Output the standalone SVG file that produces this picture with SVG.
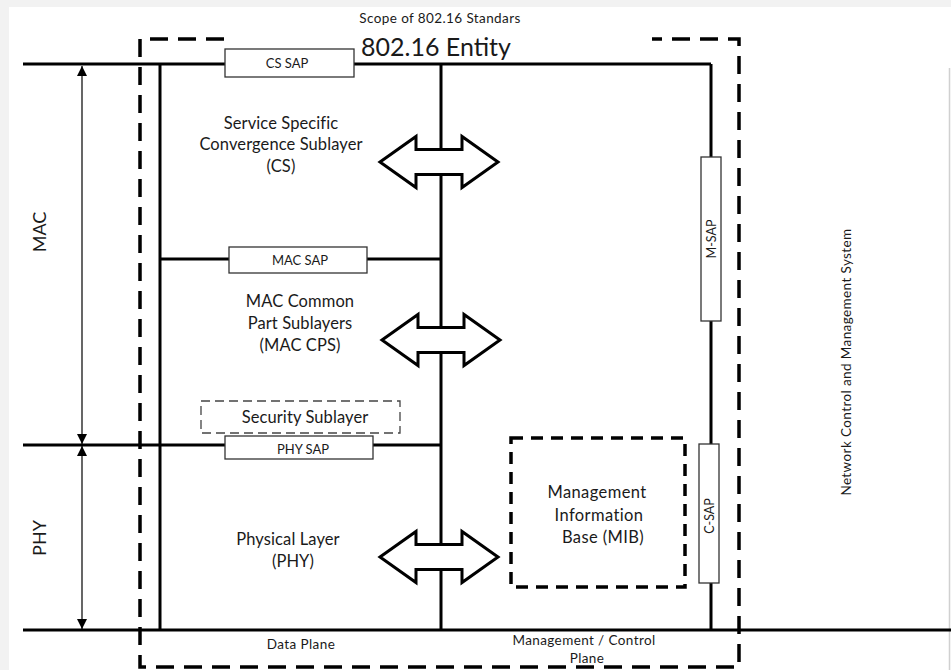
<svg xmlns="http://www.w3.org/2000/svg" width="951" height="670" viewBox="0 0 951 670">
<defs>
<style>
text{font-family:Lato,"Open Sans","Liberation Sans",sans-serif;fill:#1a1a1a;text-anchor:middle}
.t12{font-size:13.5px;letter-spacing:0.4px}
.sapt{font-size:13px}
.t15{font-size:16.5px;letter-spacing:0.1px}
.thick{stroke:#000;stroke-width:3;fill:none}
.thin{stroke:#000;stroke-width:1.2;fill:none}
.sap{fill:#fff;stroke:#333;stroke-width:1.3}
.scope{fill:none;stroke:#000;stroke-width:3.5;stroke-dasharray:18 10}
.arrow{fill:#fff;stroke:#000;stroke-width:3;stroke-linejoin:miter}
</style>
<marker id="ah" viewBox="0 0 10 10" refX="10" refY="5" markerWidth="12" markerHeight="10" markerUnits="userSpaceOnUse" orient="auto-start-reverse">
<path d="M0,0 L10,5 L0,10 Z" fill="#000"/>
</marker>
<path id="dbl" d="M-59,0 L-23,-25.5 L-23,-12.5 L23,-12.5 L23,-25.5 L59,0 L23,25.5 L23,12.5 L-23,12.5 L-23,25.5 Z"/>
</defs>
<rect x="0" y="0" width="951" height="670" fill="#f2f2f2"/>
<rect x="9" y="7" width="942" height="663" fill="#fff"/>
<line x1="949.5" y1="68" x2="949.5" y2="670" stroke="#d0d0d0" stroke-width="1.5"/>

<g id="scope">
<path class="scope" d="M224,39 L140,39 L140,667 L739,667 L739,39 L652,39"/>
<text class="t12" x="440" y="23">Scope of 802.16 Standars</text>
<text x="436" y="56" style="font-size:25px">802.16 Entity</text>
</g>

<g id="connectors">
<line class="thick" x1="23" y1="64" x2="711" y2="64"/>
<line class="thick" x1="711" y1="64" x2="711" y2="631"/>
<line class="thick" x1="160" y1="64" x2="160" y2="631"/>
<line class="thick" x1="441" y1="64" x2="441" y2="631"/>
<line class="thick" x1="160" y1="259" x2="441" y2="259"/>
<line class="thick" x1="23" y1="445" x2="441" y2="445"/>
<line class="thick" x1="23" y1="630" x2="951" y2="630"/>
<line class="thin" x1="82" y1="252" x2="82" y2="66" marker-end="url(#ah)"/>
<line class="thin" x1="82" y1="252" x2="82" y2="444" marker-end="url(#ah)"/>
<line class="thin" x1="82" y1="540" x2="82" y2="446" marker-end="url(#ah)"/>
<line class="thin" x1="82" y1="540" x2="82" y2="629" marker-end="url(#ah)"/>
</g>

<g id="arrows">
<use href="#dbl" class="arrow" transform="translate(439,162)"/>
<use href="#dbl" class="arrow" transform="translate(441,340)"/>
<use href="#dbl" class="arrow" transform="translate(439,557)"/>
</g>

<g id="cs-sap">
<rect class="sap" x="225" y="49" width="129" height="28"/>
<text class="sapt" x="287" y="68">CS SAP</text>
</g>
<g id="cs">
<text class="t15" x="281" y="129">Service Specific</text>
<text class="t15" x="281" y="150">Convergence Sublayer</text>
<text class="t15" x="281" y="172">(CS)</text>
</g>
<g id="mac-sap">
<rect class="sap" x="229" y="247" width="138" height="26"/>
<text class="sapt" x="300" y="265">MAC SAP</text>
</g>
<g id="mac-cps">
<text class="t15" x="300" y="307">MAC Common</text>
<text class="t15" x="300" y="329">Part Sublayers</text>
<text class="t15" x="300" y="351">(MAC CPS)</text>
</g>
<g id="security">
<rect x="201" y="401" width="199" height="32" fill="#fff" stroke="#444" stroke-width="1.3" stroke-dasharray="9 5"/>
<text class="t15" x="305" y="423">Security Sublayer</text>
</g>
<g id="phy-sap">
<rect class="sap" x="225" y="436" width="148" height="23"/>
<text class="sapt" x="303" y="454">PHY SAP</text>
</g>
<g id="phy">
<text class="t15" x="288" y="545">Physical Layer</text>
<text class="t15" x="293" y="567">(PHY)</text>
</g>
<g id="mib">
<rect x="511" y="438" width="174" height="149" fill="#fff" stroke="#000" stroke-width="3.5" stroke-dasharray="12 8"/>
<text class="t15" x="597" y="498" style="letter-spacing:0.4px">Management</text>
<text class="t15" x="599" y="521" style="letter-spacing:0.4px">Information</text>
<text class="t15" x="603" y="543" style="letter-spacing:0.4px">Base (MIB)</text>
</g>
<g id="m-sap">
<rect class="sap" x="701" y="157" width="20" height="164"/>
<text class="sapt" transform="translate(715.5,239) rotate(-90)" style="font-size:12.5px">M-SAP</text>
</g>
<g id="c-sap">
<rect class="sap" x="699" y="444" width="20" height="139"/>
<text class="sapt" transform="translate(713.5,516) rotate(-90)" style="font-size:12.5px">C-SAP</text>
</g>
<g id="labels">
<text transform="translate(46,232) rotate(-90)" style="font-size:18px">MAC</text>
<text transform="translate(46,538) rotate(-90)" style="font-size:18px">PHY</text>
<text class="t12" transform="translate(851,362) rotate(-90)">Network Control and Management System</text>
<text class="t12" x="301" y="649">Data Plane</text>
<text class="t12" x="584" y="645">Management / Control</text>
<text class="t12" x="587" y="663">Plane</text>
</g>
</svg>
